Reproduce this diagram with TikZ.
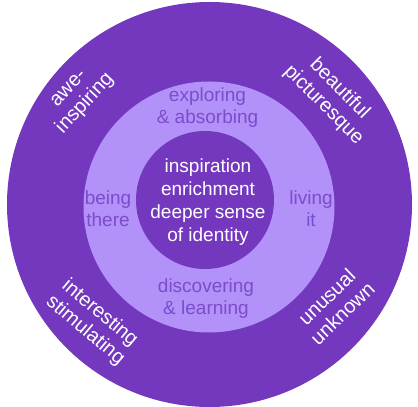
\documentclass[tikz,border=0pt]{standalone}
\usepackage{fontspec}
\setmainfont{Liberation Sans}
\definecolor{darkp}{HTML}{7438BE}
\definecolor{lightp}{HTML}{B291F9}
\definecolor{midtext}{HTML}{7B4CCB}
\begin{document}
\begin{tikzpicture}[x=1pt,y=1pt,
  outertxt/.style={text=white,align=center,font=\fontsize{20}{22.5}\selectfont,inner sep=0pt},
  ringtxt/.style={text=midtext,align=center,font=\fontsize{19}{22}\selectfont,inner sep=0pt},
  coretxt/.style={text=white,align=center,font=\fontsize{19}{23}\selectfont,inner sep=0pt}]
\useasboundingbox (0,0) rectangle (418,407);
\fill[darkp] (209.5,202.5) circle (202.5);
\fill[lightp] (209,200) circle (125.5);
\fill[darkp] (205,207) circle (69);
\node[coretxt] (core) at (208,204.5) {inspiration\\enrichment\\deeper sense\\of identity};
\node[ringtxt] (top) at (207.5,299.5) {exploring\\\& absorbing};
\node[ringtxt] (bot) at (206,108) {discovering\\\& learning};
\node[ringtxt] (left) at (108,198) {being\\there};
\node[ringtxt] (right) at (311,198) {living\\it};
\node[outertxt,rotate=47] (tl) at (78,310) {awe-\\inspiring};
\node[outertxt,rotate=-45] (tr) at (331.5,310) {beautiful\\picturesque};
\node[outertxt,rotate=-40] (bl) at (92.5,85) {interesting\\stimulating};
\node[outertxt,rotate=44] (br) at (334.5,102) {unusual\\unknown};
\end{tikzpicture}
\end{document}
